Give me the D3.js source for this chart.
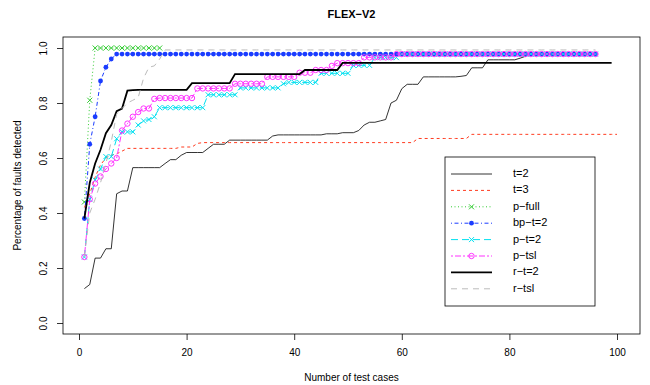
<!DOCTYPE html>
<html>
<head>
<meta charset="utf-8">
<script src="https://cdn.jsdelivr.net/npm/d3@7"></script>
<style>
  body { margin: 0; background: #fff; }
  svg { display: block; font-family: "Liberation Sans", Arial, sans-serif; }
</style>
</head>
<body>
<div class="canvas"></div>
<script>
// data: fraction of faults detected after n test cases (index 0 = 1 test case)
const tTwo = [
  0.125, 0.14, 0.236, 0.236, 0.27, 0.27, 0.47, 0.48, 0.48, 0.565,
  0.565, 0.565, 0.565, 0.565, 0.565, 0.58, 0.594, 0.594, 0.61, 0.62,
  0.62, 0.62, 0.62, 0.635, 0.65, 0.65, 0.65, 0.665, 0.665, 0.665,
  0.665, 0.665, 0.665, 0.665, 0.665, 0.68, 0.684, 0.684, 0.684, 0.684,
  0.684, 0.684, 0.684, 0.684, 0.684, 0.688, 0.688, 0.688, 0.692, 0.692,
  0.692, 0.70, 0.72, 0.73, 0.73, 0.735, 0.74, 0.80, 0.81, 0.852,
  0.868, 0.868, 0.868, 0.895, 0.895, 0.895, 0.895, 0.895, 0.895, 0.895,
  0.897, 0.90, 0.928, 0.928, 0.928, 0.957, 0.957, 0.957, 0.957, 0.957,
  0.957, 0.963, 0.97, 0.978, 0.978, 0.978, 0.978, 0.978, 0.978, 0.978,
  0.978, 0.978, 0.978, 0.978, 0.978, 0.978
];
const tThree = [
  0.42, 0.47, 0.53, 0.575, 0.60, 0.61, 0.615, 0.625, 0.635, 0.635,
  0.635, 0.635, 0.635, 0.635, 0.635, 0.635, 0.635, 0.635, 0.64, 0.64,
  0.64, 0.653, 0.656, 0.656, 0.656, 0.656, 0.656, 0.656, 0.656, 0.656,
  0.656, 0.656, 0.656, 0.656, 0.656, 0.656, 0.656, 0.656, 0.656, 0.656,
  0.656, 0.656, 0.656, 0.656, 0.656, 0.656, 0.656, 0.656, 0.656, 0.656,
  0.656, 0.656, 0.656, 0.656, 0.656, 0.656, 0.656, 0.656, 0.656, 0.656,
  0.656, 0.656, 0.671, 0.671, 0.671, 0.671, 0.671, 0.671, 0.671, 0.671,
  0.671, 0.671, 0.686, 0.686, 0.686, 0.686, 0.686, 0.686, 0.686, 0.686,
  0.686, 0.686, 0.686, 0.686, 0.686, 0.686, 0.686, 0.686, 0.686, 0.686,
  0.686, 0.686, 0.686, 0.686, 0.686, 0.686, 0.686, 0.686, 0.686, 0.686
];
const pFull = [
  0.44, 0.81, 1.0, 1.0, 1.0, 1.0, 1.0, 1.0, 1.0, 1.0,
  1.0, 1.0, 1.0, 1.0, 1.0
];
const bpTwo = [
  0.38, 0.65, 0.75, 0.88, 0.93, 0.96, 0.978, 0.978, 0.978, 0.978,
  0.978, 0.978, 0.978, 0.978, 0.978, 0.978, 0.978, 0.978, 0.978, 0.978,
  0.978, 0.978, 0.978, 0.978, 0.978, 0.978, 0.978, 0.978, 0.978, 0.978,
  0.978, 0.978, 0.978, 0.978, 0.978, 0.978, 0.978, 0.978, 0.978, 0.978,
  0.978, 0.978, 0.978, 0.978, 0.978, 0.978, 0.978, 0.978, 0.978, 0.978,
  0.978, 0.978, 0.978, 0.978, 0.978, 0.978, 0.978, 0.978, 0.978, 0.978,
  0.978, 0.978, 0.978, 0.978, 0.978, 0.978, 0.978, 0.978, 0.978, 0.978,
  0.978, 0.978, 0.978, 0.978, 0.978, 0.978, 0.978, 0.978, 0.978, 0.978,
  0.978, 0.978, 0.978, 0.978, 0.978, 0.978, 0.978, 0.978, 0.978, 0.978,
  0.978, 0.978, 0.978, 0.978, 0.978, 0.978
];
const pTwo = [
  0.24, 0.45, 0.52, 0.56, 0.605, 0.605, 0.67, 0.695, 0.695, 0.695,
  0.72, 0.735, 0.74, 0.75, 0.783, 0.783, 0.783, 0.783, 0.783, 0.783,
  0.783, 0.783, 0.783, 0.83, 0.83, 0.83, 0.83, 0.83, 0.83, 0.855,
  0.855, 0.855, 0.855, 0.855, 0.855, 0.855, 0.855, 0.87, 0.875, 0.875,
  0.875, 0.875, 0.875, 0.875, 0.908, 0.908, 0.908, 0.908, 0.908, 0.908,
  0.937, 0.937, 0.937, 0.937, 0.965, 0.965, 0.965, 0.965, 0.965, 0.978,
  0.978, 0.978, 0.978, 0.978, 0.978, 0.978, 0.978, 0.978, 0.978, 0.978,
  0.978, 0.978, 0.978, 0.978, 0.978, 0.978, 0.978, 0.978, 0.978, 0.978,
  0.978, 0.978, 0.978, 0.978, 0.978, 0.978, 0.978, 0.978, 0.978, 0.978,
  0.978, 0.978, 0.978, 0.978, 0.978, 0.978
];
const pTsl = [
  0.24, 0.45, 0.507, 0.533, 0.56, 0.58, 0.60, 0.70, 0.725, 0.75,
  0.767, 0.78, 0.78, 0.815, 0.818, 0.818, 0.818, 0.818, 0.818, 0.818,
  0.818, 0.853, 0.853, 0.853, 0.853, 0.853, 0.853, 0.853, 0.87, 0.87,
  0.87, 0.87, 0.87, 0.87, 0.895, 0.895, 0.895, 0.895, 0.895, 0.895,
  0.91, 0.91, 0.91, 0.92, 0.92, 0.92, 0.935, 0.945, 0.945, 0.945,
  0.945, 0.945, 0.966, 0.966, 0.966, 0.966, 0.966, 0.966, 0.978, 0.978,
  0.978, 0.978, 0.978, 0.978, 0.978, 0.978, 0.978, 0.978, 0.978, 0.978,
  0.978, 0.978, 0.978, 0.978, 0.978, 0.978, 0.978, 0.978, 0.978, 0.978,
  0.978, 0.978, 0.978, 0.978, 0.978, 0.978, 0.978, 0.978, 0.978, 0.978,
  0.978, 0.978, 0.978, 0.978, 0.978, 0.978
];
const rTwo = [
  0.38, 0.51, 0.58, 0.63, 0.69, 0.72, 0.77, 0.78, 0.845, 0.847,
  0.848, 0.848, 0.848, 0.848, 0.848, 0.848, 0.848, 0.848, 0.848, 0.848,
  0.872, 0.872, 0.872, 0.872, 0.872, 0.872, 0.872, 0.872, 0.905, 0.905,
  0.905, 0.905, 0.905, 0.905, 0.905, 0.905, 0.905, 0.905, 0.905, 0.905,
  0.905, 0.92, 0.92, 0.92, 0.92, 0.92, 0.92, 0.92, 0.946, 0.946,
  0.946, 0.946, 0.946, 0.946, 0.946, 0.946, 0.946, 0.946, 0.946, 0.946,
  0.946, 0.946, 0.946, 0.946, 0.946, 0.946, 0.946, 0.946, 0.946, 0.946,
  0.946, 0.946, 0.946, 0.946, 0.946, 0.946, 0.946, 0.946, 0.946, 0.946,
  0.946, 0.946, 0.946, 0.946, 0.946, 0.946, 0.946, 0.946, 0.946, 0.946,
  0.946, 0.946, 0.946, 0.946, 0.946, 0.946, 0.946, 0.946, 0.946
];
const rTsl = [
  0.24, 0.40, 0.45, 0.51, 0.58, 0.66, 0.76, 0.78, 0.80, 0.81,
  0.82, 0.89, 0.93, 0.935, 0.96, 0.993, 0.993, 0.993, 0.993, 0.993,
  0.993, 0.993, 0.993, 0.993, 0.993, 0.993, 0.993, 0.993, 0.993, 0.993,
  0.993, 0.993, 0.993, 0.993, 0.993, 0.993, 0.993, 0.993, 0.993, 0.993,
  0.993, 0.993, 0.993, 0.993, 0.993, 0.993, 0.993, 0.993, 0.993, 0.993,
  0.993, 0.993, 0.993, 0.993, 0.993, 0.993, 0.993, 0.993, 0.993, 0.993,
  0.993, 0.993, 0.993, 0.993, 0.993, 0.993, 0.993, 0.993, 0.993, 0.993,
  0.993, 0.993, 0.993, 0.993, 0.993, 0.993, 0.993, 0.993, 0.993, 0.993,
  0.993, 0.993, 0.993, 0.993, 0.993, 0.993, 0.993, 0.993, 0.993, 0.993,
  0.993, 0.993, 0.993, 0.993, 0.993, 0.993
];

const xTicks = [0, 20, 40, 60, 80, 100];
const yTicks = [0, 0.2, 0.4, 0.6, 0.8, 1.0];

// series styles, drawn in legend order
const series = [
  { name: 't=2', values: tTwo, color: '#000000', width: 0.8, dash: null, marker: null },
  { name: 't=3', values: tThree, color: '#ff3b1f', width: 1, dash: '3,3', marker: null },
  { name: 'p\u2212full', values: pFull, color: '#33cc33', width: 1, dash: '1,2.5', marker: 'x' },
  { name: 'bp\u2212t=2', values: bpTwo, color: '#1a3cff', width: 1, dash: '1,2.5,4,2.5', marker: 'dot' },
  { name: 'p\u2212t=2', values: pTwo, color: '#00e0f0', width: 1, dash: '7,4', marker: 'x' },
  { name: 'p\u2212tsl', values: pTsl, color: '#ff33ff', width: 1, dash: '2,2,6,2', marker: 'o' },
  { name: 'r\u2212t=2', values: rTwo, color: '#000000', width: 1.8, dash: null, marker: null },
  { name: 'r\u2212tsl', values: rTsl, color: '#bbbbbb', width: 1, dash: '6,5', marker: null }
];

// plot box in pixels
const dims = { width: 650, height: 385, left: 63, right: 640, top: 37, bottom: 334 };

const svg = d3.select('.canvas')
  .append('svg')
  .attr('width', dims.width)
  .attr('height', dims.height);

// scales
const x = d3.scaleLinear().domain([0, 100]).range([79, 617]);
const y = d3.scaleLinear().domain([0, 1]).range([323, 48]);

// axes
const xAxis = d3.axisBottom(x).tickValues(xTicks).tickSize(6).tickPadding(9)
  .tickFormat(d3.format('d'));
const yAxis = d3.axisLeft(y).tickValues(yTicks).tickSize(6)
  .tickFormat(d3.format('.1f'));

const xAxisGroup = svg.append('g')
  .attr('transform', `translate(0, ${dims.bottom})`)
  .call(xAxis);
const yAxisGroup = svg.append('g')
  .attr('transform', `translate(${dims.left}, 0)`)
  .call(yAxis);

[xAxisGroup, yAxisGroup].forEach((g) => {
  g.select('.domain').remove();
  g.selectAll('.tick line').attr('stroke', '#000').attr('stroke-width', 0.8);
  g.selectAll('text').attr('fill', '#000').attr('font-size', 10)
    .attr('font-family', '"Liberation Sans", Arial, sans-serif');
});

// y tick labels rotated like R's default
yAxisGroup.selectAll('.tick text')
  .attr('x', null).attr('dy', null)
  .attr('text-anchor', 'middle')
  .attr('transform', 'translate(-19, 0) rotate(-90)')
  .attr('dominant-baseline', 'middle');

// lines
const line = d3.line()
  .x((d, i) => x(i + 1))
  .y((d) => y(d));

const plot = svg.append('g');

series.forEach((s) => {
  const g = plot.append('g');
  g.append('path')
    .datum(s.values)
    .attr('d', line)
    .attr('fill', 'none')
    .attr('stroke', s.color)
    .attr('stroke-width', s.width)
    .attr('stroke-dasharray', s.dash);
  if (s.marker) {
    drawMarkers(g, s.values.map((v, i) => [x(i + 1), y(v)]), s);
  }
});

function drawMarkers(g, pts, s) {
  const m = g.selectAll('.m').data(pts).enter().append('g')
    .attr('transform', (d) => `translate(${d[0]}, ${d[1]})`);
  if (s.marker === 'x') {
    m.append('path').attr('d', 'M-2.5,-2.5L2.5,2.5M-2.5,2.5L2.5,-2.5')
      .attr('stroke', s.color).attr('stroke-width', 1).attr('fill', 'none');
  } else if (s.marker === 'dot') {
    m.append('circle').attr('r', 2.4).attr('fill', s.color);
  } else {
    m.append('circle').attr('r', 2.7).attr('fill', 'none')
      .attr('stroke', s.color).attr('stroke-width', 1);
  }
}

// plot box
svg.append('rect')
  .attr('x', dims.left).attr('y', dims.top)
  .attr('width', dims.right - dims.left).attr('height', dims.bottom - dims.top)
  .attr('fill', 'none').attr('stroke', '#000').attr('stroke-width', 0.8);

// legend
const legend = svg.append('g');
legend.append('rect')
  .attr('x', 445).attr('y', 157).attr('width', 150).attr('height', 149)
  .attr('fill', '#fff').attr('stroke', '#000').attr('stroke-width', 0.8);

series.forEach((s, i) => {
  const ly = 174 + i * 16.4;
  const item = legend.append('g');
  item.append('line')
    .attr('x1', 451).attr('x2', 492).attr('y1', ly).attr('y2', ly)
    .attr('stroke', s.color).attr('stroke-width', s.width)
    .attr('stroke-dasharray', s.dash);
  if (s.marker) drawMarkers(item, [[471.5, ly]], s);
  item.append('text')
    .attr('x', 513).attr('y', ly)
    .attr('dominant-baseline', 'middle')
    .attr('font-size', 11)
    .text(s.name);
});

// titles
svg.append('text')
  .attr('x', (dims.left + dims.right) / 2).attr('y', 18)
  .attr('text-anchor', 'middle').attr('font-size', 11).attr('font-weight', 'bold')
  .text('FLEX\u2212V2');

svg.append('text')
  .attr('x', (dims.left + dims.right) / 2).attr('y', 381)
  .attr('text-anchor', 'middle').attr('font-size', 10)
  .text('Number of test cases');

svg.append('text')
  .attr('transform', `translate(21, ${(dims.top + dims.bottom) / 2}) rotate(-90)`)
  .attr('text-anchor', 'middle').attr('font-size', 10)
  .text('Percentage of faults detected');
</script>
</body>
</html>
